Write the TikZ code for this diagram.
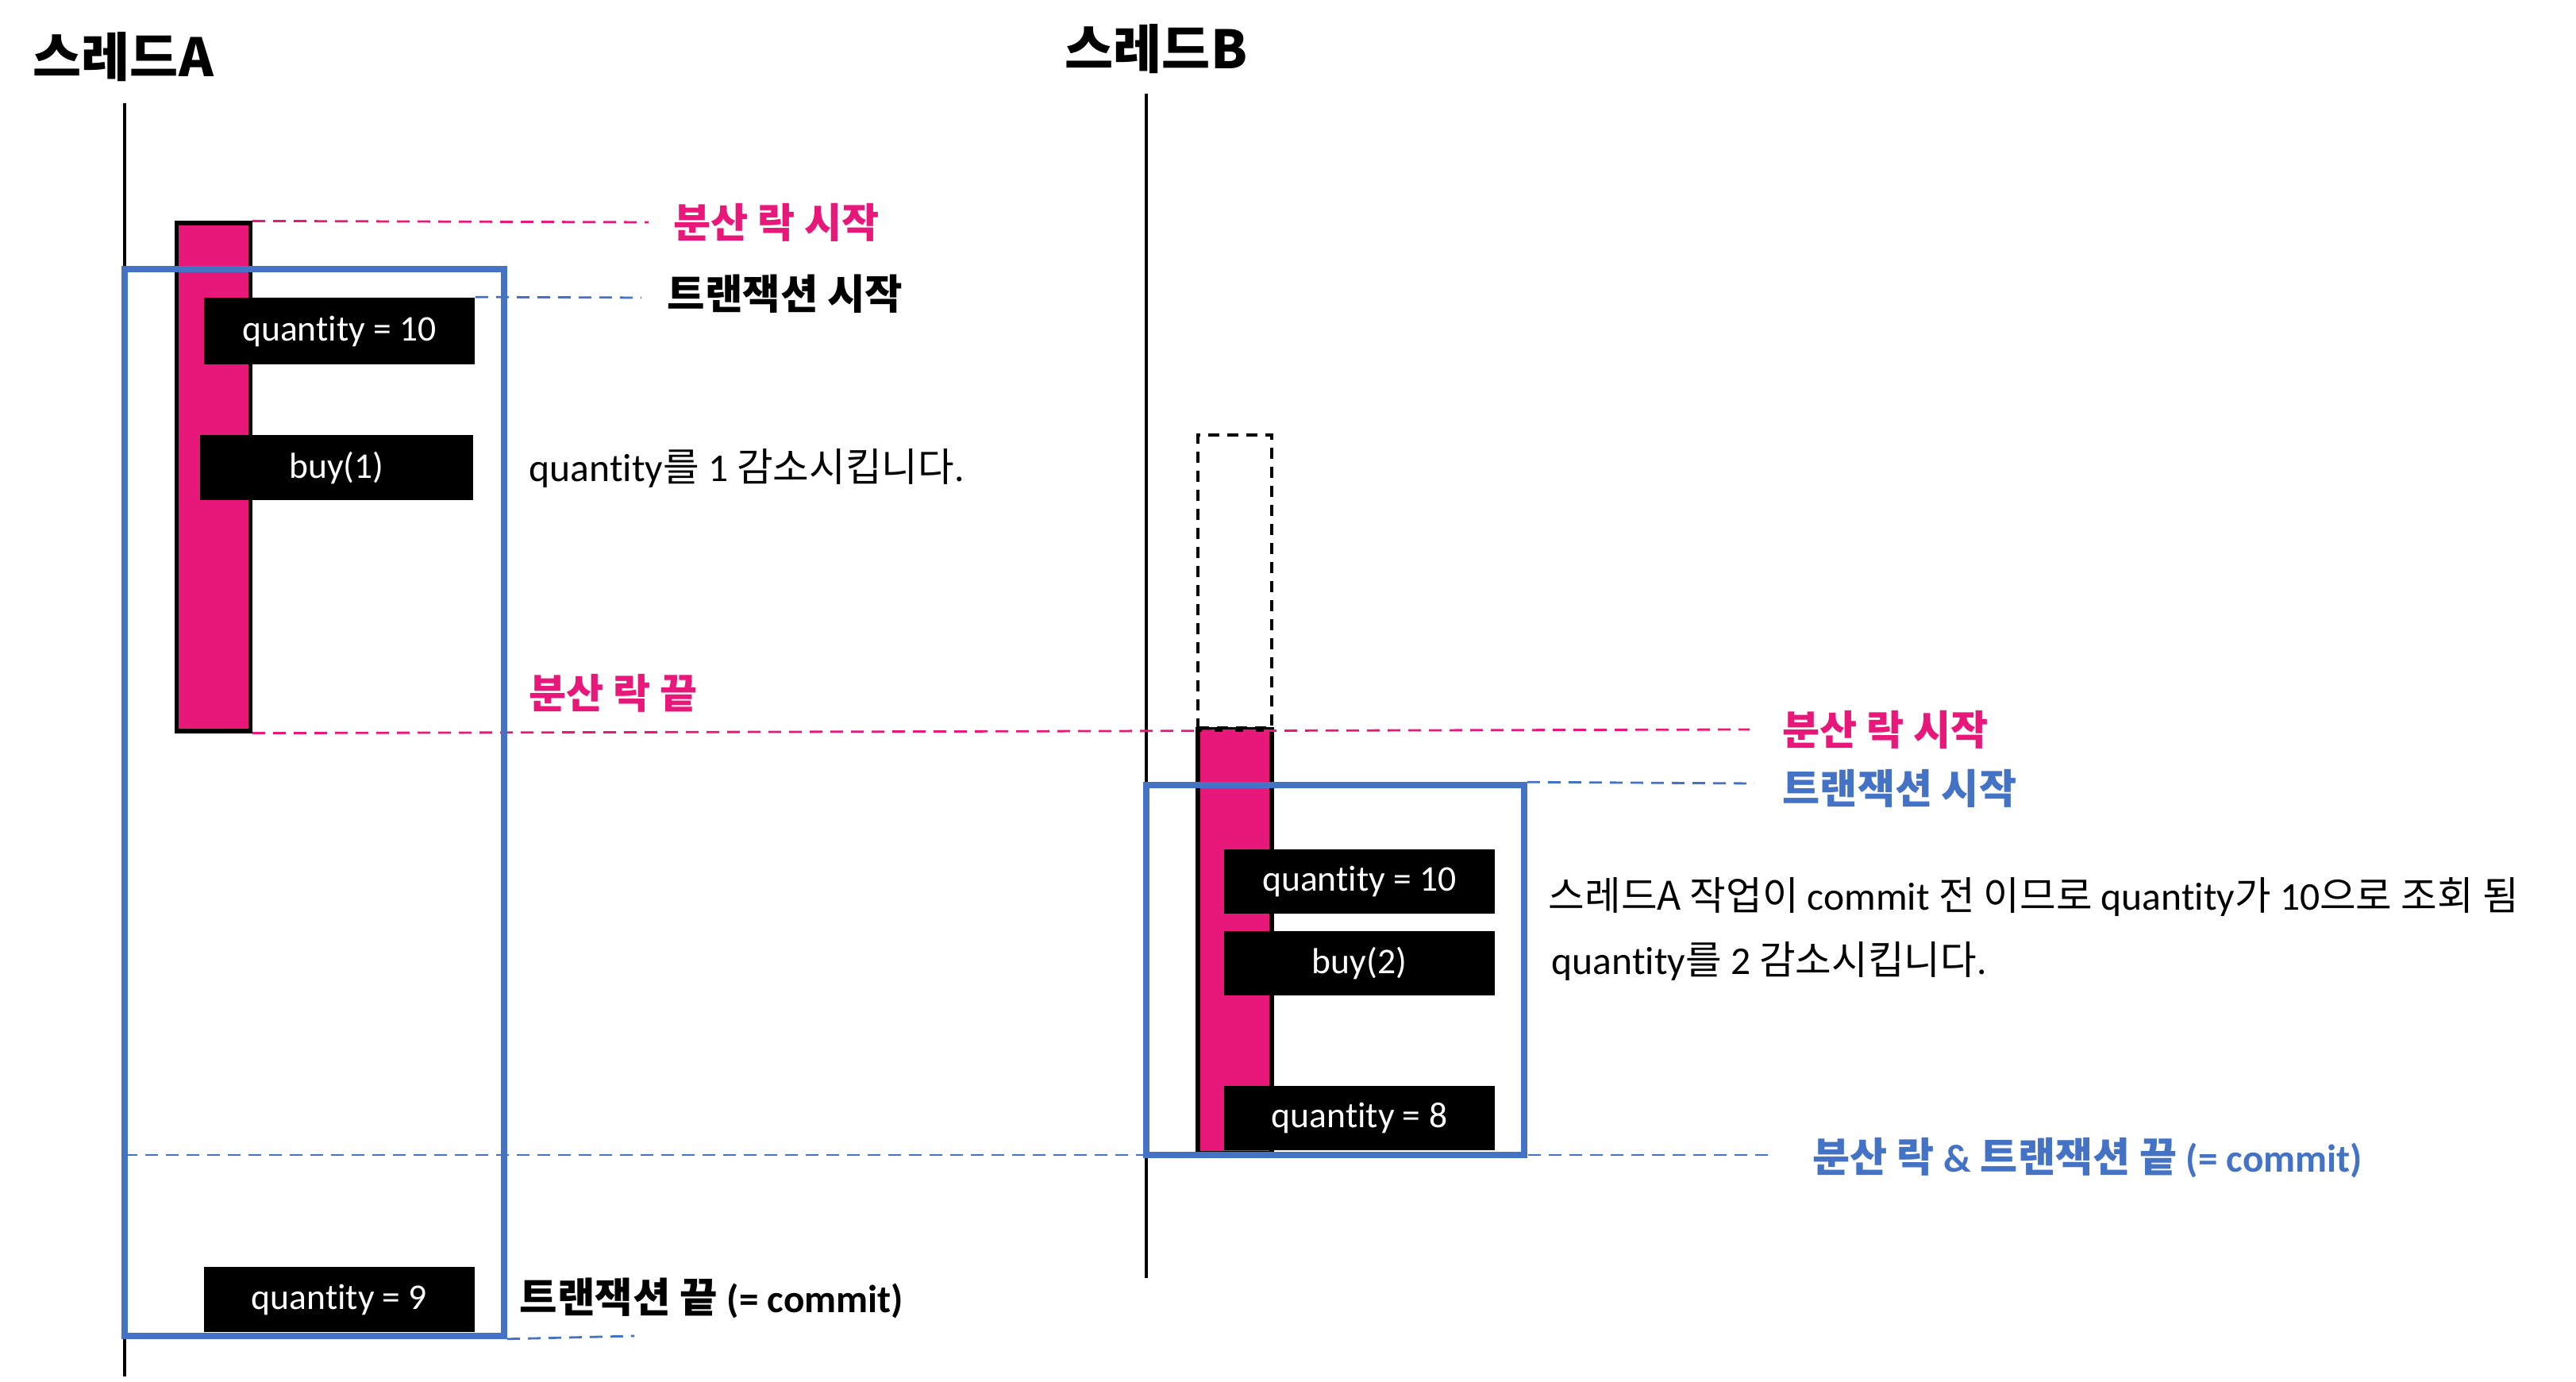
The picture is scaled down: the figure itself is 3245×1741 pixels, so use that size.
\documentclass[tikz,border=0pt]{standalone}
\usepackage{fontspec}
\setmainfont{Noto Sans CJK KR}
\newfontfamily\lat[Ligatures={NoCommon,NoContextual},RawFeature={-liga;-clig;-dlig}]{Carlito}
\newcommand\latsm[1]{{\lat\fontsize{12.3}{15}\selectfont #1}}
\definecolor{lockpink}{RGB}{231,24,122}
\definecolor{txblue}{RGB}{68,114,196}
\tikzset{
  lifeline/.style={line width=1pt,black},
  lockbar/.style={draw=black,line width=1.3pt,fill=lockpink,minimum width=23.25pt,inner sep=0},
  waitbar/.style={draw=black,line width=0.9pt,dash pattern=on 3.5pt off 2.5pt,minimum width=23.25pt,inner sep=0},
  txbox/.style={draw=txblue,line width=1.9pt,inner sep=0},
  valbox/.style={fill=black,text=white,font=\lat\fontsize{11.4}{13}\selectfont,minimum width=85.25pt,minimum height=20.5pt,inner sep=0},
  title/.style={font=\bfseries\fontsize{16.6}{19}\selectfont,anchor=west,inner sep=0},
  plabel/.style={font=\bfseries\fontsize{12.8}{15}\selectfont,text=lockpink,anchor=west,inner sep=0},
  blabel/.style={font=\bfseries\fontsize{12.8}{15}\selectfont,text=txblue,anchor=west,inner sep=0},
  klabel/.style={font=\bfseries\fontsize{12.9}{15}\selectfont,text=black,anchor=west,inner sep=0},
  note/.style={font=\fontsize{12.4}{15}\selectfont,anchor=west,inner sep=0},
  pdash/.style={draw=lockpink,line width=0.7pt,dash pattern=on 4pt off 2.5pt},
  bdash/.style={draw=txblue,line width=0.7pt,dash pattern=on 4pt off 2.5pt},
}
\begin{document}
\begin{tikzpicture}[x=0.25pt,y=-0.25pt]
\useasboundingbox (0,0) rectangle (3245,1741);
% titles
\node[title] (titleA) at (41,72) {스레드A};
\node[title] (titleB) at (1341,62) {스레드B};
% lifelines
\coordinate (tAtop) at (157,130);
\coordinate (tAbot) at (157,1734);
\coordinate (tBtop) at (1444,118);
\coordinate (tBbot) at (1444,1610);
\draw[lifeline] (tAtop) -- (tAbot);
\draw[lifeline] (tBtop) -- (tBbot);
% labels
\node[plabel] (lsA) at (848,280) {분산 락 시작};
\node[klabel] (tsA) at (840,370) {트랜잭션 시작};
\node[note] (n1) at (666,590) {{\lat quantity}를 {\lat 1} 감소시킵니다{\lat .}};
\node[plabel] (leA) at (666,873) {분산 락 끝};
\node[plabel] (lsB) at (2245,919) {분산 락 시작};
\node[blabel] (tsB) at (2245,993) {트랜잭션 시작};
\node[note] (n2) at (1950,1130) {스레드A 작업이 {\lat commit} 전 이므로 {\lat quantity}가 {\lat 10}으로 조회 됨};
\node[note] (n3) at (1954,1211) {{\lat quantity}를 {\lat 2} 감소시킵니다{\lat .}};
\node[blabel] (endB) at (2283,1459) {분산 락 \latsm{\&} 트랜잭션 끝 \latsm{(= commit)}};
\node[klabel] (endA) at (654,1635) {트랜잭션 끝 \latsm{(= commit)}};
% bars
\node[lockbar,minimum height=160pt] (barA) at (269,601) {};
\node[waitbar,minimum height=92.25pt] (waitB) at (1555.5,732.5) {};
\node[lockbar,minimum height=133.5pt] (barB) at (1555.5,1186) {};
% dashed guides
\coordinate (gpe) at (2204,919);
\coordinate (gb3) at (2235,1455);
\coordinate (gb3s) at (157,1455);
\coordinate (gb4) at (799,1683);
\draw[pdash] (barA.north east) -- (lsA.west -| 817,0);
\draw[pdash] (barA.south east) -- (gpe);
\draw[bdash] (gb3s) -- (gb3);
% transaction boxes
\node[txbox,minimum width=119.5pt,minimum height=336pt] (txA) at (396,1011) {};
\node[txbox,minimum width=119pt,minimum height=116.5pt] (txB) at (1682,1222) {};
\draw[bdash] (txB.north east) -- (2210,987);
\draw[bdash] (txA.south east) -- (gb4);
% value boxes
\node[valbox,minimum height=21pt] (qa10) at (427.5,417) {quantity = 10};
\draw[bdash] (qa10.north east) -- (808,375);
\node[valbox,minimum width=86pt] (buy1) at (424,589.5) {buy(1)};
\node[valbox] (qa9) at (427.5,1637) {quantity = 9};
\node[valbox,minimum height=20.25pt] (qb10) at (1712.5,1110.5) {quantity = 10};
\node[valbox,minimum height=20.25pt] (buy2) at (1712.5,1213.5) {buy(2)};
\node[valbox,minimum height=20.25pt] (qb8) at (1712.5,1408.5) {quantity = 8};
\end{tikzpicture}
\end{document}
